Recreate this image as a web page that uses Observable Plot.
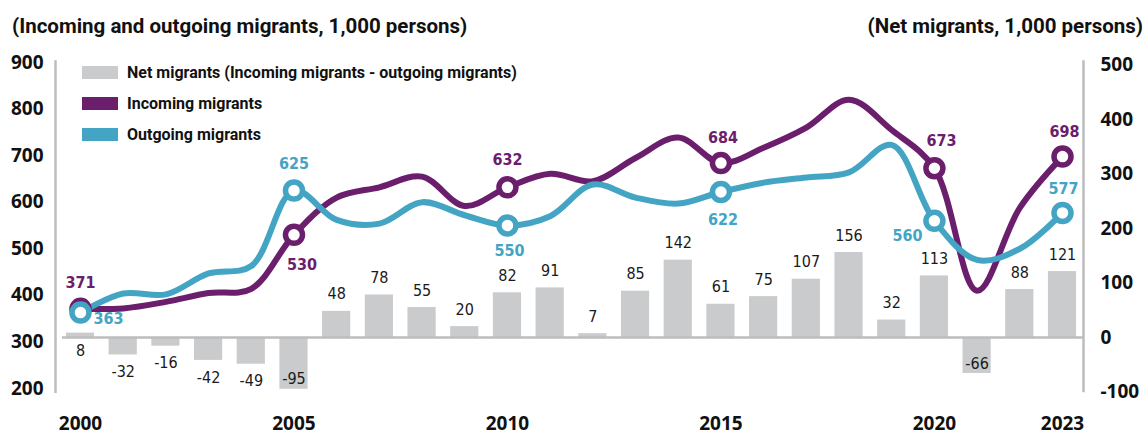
<!DOCTYPE html>
<html>
<head>
<meta charset="utf-8">
<script src="https://cdn.jsdelivr.net/npm/d3@7"></script>
<script src="https://cdn.jsdelivr.net/npm/@observablehq/plot@0.6"></script>
<style>
  html, body { margin: 0; padding: 0; background: #fff; }
  #wrap { position: relative; width: 1147px; height: 435px; font-family: "Open Sans", sans-serif; }
  .title { position: absolute; top: 14px; font-size: 20.5px; font-weight: 700; color: #111; white-space: nowrap; font-family: "Roboto", "Open Sans", sans-serif; }
  .legend { position: absolute; left: 82px; top: 57px; font-size: 16px; font-weight: 700; color: #111; font-family: "Roboto", "Open Sans", sans-serif; }
  .legend .row { display: flex; align-items: center; height: 31px; white-space: nowrap; }
  .legend .sw { width: 36px; height: 13px; margin-right: 9px; }
  svg text { font-family: "Open Sans", sans-serif; }
  svg g[aria-label$="tick label"] text { font-weight: 700; }
  svg g[aria-label="text"] text { font-family: "DejaVu Sans Condensed", "DejaVu Sans", sans-serif; }
</style>
</head>
<body>
<div id="wrap">
  <div class="title" style="left:12px">(Incoming and outgoing migrants, 1,000 persons)</div>
  <div class="title" style="right:4px">(Net migrants, 1,000 persons)</div>
  <div id="chart"></div>
  <div class="legend" id="legend"></div>
</div>
<script>
const years    = [2000,2001,2002,2003,2004,2005,2006,2007,2008,2009,2010,2011,2012,2013,2014,2015,2016,2017,2018,2019,2020,2021,2022,2023];
const incoming = [371,372,386,405,414,530,610,632,655,592,632,661,645,695,739,684,717,760,820,755,673,410,588,698];
const outgoing = [363,404,402,447,463,625,562,554,600,572,550,570,638,610,597,622,642,653,664,723,560,476,500,577];
const net      = [8,-32,-16,-42,-49,-95,48,78,55,20,82,91,7,85,142,61,75,107,156,32,113,-66,88,121];
const markerYears = [2000,2005,2010,2015,2020,2023];
const xTicks = [2000,2005,2010,2015,2020,2023];
const leftTicks = [200,300,400,500,600,700,800,900];
const rightTicks = [-100,0,100,200,300,400,500];
const seriesNames = ["Net migrants (Incoming migrants - outgoing migrants)","Incoming migrants","Outgoing migrants"];
const colors = {net:"#c9cbcc", inc:"#6b1e6b", out:"#44a4c4"};

const PX_Y = 326 / 700;
const PX_X = 982 / 23;
const toL = r => 309.5 + 1.17 * r;

const data = years.map((year, i) => ({year, incoming: incoming[i], outgoing: outgoing[i], net: net[i]}));
const markers = data.filter(d => markerYears.includes(d.year));

const incPlace = {2000:[0,-26],2005:[8,30],2010:[0,-27],2015:[2,-25],2020:[7,-27],2023:[2,-25]};
const outPlace = {2000:[28,6],2005:[0,-27],2010:[2,25],2015:[2,28],2020:[-27,15],2023:[1,-24]};

function netOff(d) {
  if (d.year === 2000) return 13;
  if (d.net >= 0) return -17;
  const bottomPx = -d.net * 0.545;
  return bottomPx + 17 > 44 ? -10 : 17;
}
const netLabelY = d => (d.year === 2000 ? toL(0) : toL(d.net)) - netOff(d) / PX_Y;

const xl = 2000 - 25 / PX_X, xr = 2023 + 21 / PX_X, xb = 2000 - 18 / PX_X;

const chart = Plot.plot({
  width: 1147, height: 435,
  marginLeft: 80, marginRight: 85, marginTop: 62, marginBottom: 47,
  x: {domain: [2000, 2023], label: null},
  y: {domain: [200, 900], label: null},
  style: {fontSize: "19px", color: "#111", background: "transparent"},
  marks: [
    Plot.rect(data, {x1: d => d.year - 0.33, x2: d => d.year + 0.33, y1: toL(0), y2: d => toL(d.net), fill: colors.net}),
    Plot.ruleY([toL(0)], {x1: xb, x2: xr, stroke: "#bdbdbd", strokeWidth: 2.5}),
    Plot.ruleX([xl], {y1: 189, y2: 904, stroke: "#bdbdbd", strokeWidth: 2.5}),
    Plot.ruleX([xr], {y1: 191, y2: 904, stroke: "#bdbdbd", strokeWidth: 2.5}),
    Plot.text(data, {x: "year", y: netLabelY, text: d => String(d.net), fontSize: 16, fill: "#1a1a1a", fontWeight: 400}),
    Plot.line(data, {x: "year", y: "incoming", stroke: colors.inc, strokeWidth: 6, curve: "catmull-rom"}),
    Plot.line(data, {x: "year", y: "outgoing", stroke: colors.out, strokeWidth: 6, curve: "catmull-rom"}),
    Plot.dot(markers, {x: "year", y: "incoming", r: 8.5, fill: "white", stroke: colors.inc, strokeWidth: 5.5}),
    Plot.dot(markers, {x: "year", y: "outgoing", r: 8.5, fill: "white", stroke: colors.out, strokeWidth: 5.5}),
    Plot.text(markers, {x: d => d.year + incPlace[d.year][0] / PX_X, y: d => d.incoming - incPlace[d.year][1] / PX_Y, text: d => String(d.incoming), fill: colors.inc, fontSize: 16, fontWeight: 700}),
    Plot.text(markers, {x: d => d.year + outPlace[d.year][0] / PX_X, y: d => d.outgoing - outPlace[d.year][1] / PX_Y, text: d => String(d.outgoing), fill: colors.out, fontSize: 16, fontWeight: 700}),
    Plot.axisY({anchor: "left", ticks: leftTicks, tickSize: 0, tickPadding: 37, label: null, fontWeight: 700, fontSize: 19}),
    Plot.axisY(rightTicks.map(toL), {anchor: "right", tickSize: 0, tickPadding: 38, label: null, tickFormat: d => String(Math.round((d - 309.5) / 1.17)), fontWeight: 700, fontSize: 19}),
    Plot.axisX({ticks: xTicks, tickSize: 0, tickPadding: 28, label: null, tickFormat: d => String(d), fontWeight: 700, fontSize: 19})
  ]
});
document.getElementById("chart").appendChild(chart);

const legend = document.getElementById("legend");
[colors.net, colors.inc, colors.out].forEach((c, i) => {
  const row = document.createElement("div");
  row.className = "row";
  row.innerHTML = `<div class="sw" style="background:${c}"></div><span>${seriesNames[i]}</span>`;
  legend.appendChild(row);
});
</script>
</body>
</html>
